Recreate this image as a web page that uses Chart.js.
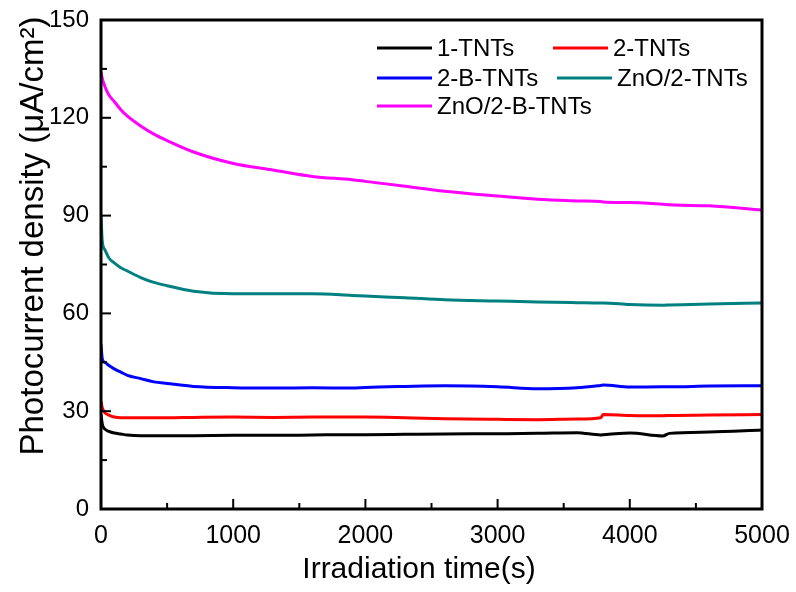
<!DOCTYPE html>
<html>
<head>
<meta charset="utf-8">
<script src="https://cdn.jsdelivr.net/npm/chart.js@4"></script>
<style>
  body { margin: 0; background: #fff; }
  #wrap { width: 796px; height: 592px; }
</style>
</head>
<body>
<div id="wrap"><canvas id="photoChart" width="796" height="592"></canvas></div>
<script>
const labels = ['1-TNTs', '2-TNTs', '2-B-TNTs', 'ZnO/2-TNTs', 'ZnO/2-B-TNTs'];
const colors = ['#000000', '#ff0000', '#0000ff', '#008080', '#ff00ff'];

const times = [0, 10, 30, 60, 100, 150, 200, 300, 400, 500, 700, 1000, 1300, 1600, 1900, 2000, 2300, 2600, 3000, 3300, 3600, 3780, 3800, 4000, 4250, 4300, 4600, 5000];

const tnt1   = [29, 26, 24.5, 23.8, 23.3, 23, 22.7, 22.5, 22.5, 22.5, 22.5, 22.6, 22.6, 22.7, 22.8, 22.8, 22.9, 23, 23.1, 23.2, 23.4, 22.7, 22.8, 23.3, 22.4, 23.2, 23.6, 24.2];
const tnt2   = [33, 31, 29.5, 28.8, 28.2, 28, 28, 28, 28, 28, 28.1, 28.2, 28.1, 28.2, 28.2, 28.2, 28, 27.7, 27.5, 27.4, 27.6, 28, 29, 28.7, 28.6, 28.7, 28.8, 29];
const btnt2  = [50.5, 46, 45, 44, 43, 42, 41, 40, 39, 38.5, 37.6, 37.2, 37.1, 37.2, 37.1, 37.3, 37.6, 37.8, 37.5, 36.9, 37.2, 37.9, 38, 37.4, 37.5, 37.5, 37.7, 37.8];
const zno2   = [90, 82, 79.5, 77, 75.5, 74, 73, 71, 69.5, 68.5, 66.8, 66, 66, 66, 65.5, 65.3, 64.8, 64.2, 63.8, 63.5, 63.3, 63.2, 63.2, 62.7, 62.5, 62.6, 62.9, 63.2];
const znob2  = [134, 132, 129.5, 127, 125, 122.5, 120.5, 117.5, 115, 113, 109.5, 106, 104, 102, 101, 100.5, 99, 97.5, 96, 95, 94.5, 94.3, 94.2, 94, 93.5, 93.3, 93, 91.7];

const series = [tnt1, tnt2, btnt2, zno2, znob2];

const xTicks = [0, 1000, 2000, 3000, 4000, 5000];
const yTicks = [0, 30, 60, 90, 120, 150];

const font = "'Liberation Sans', Arial, sans-serif";
const xTitle = 'Irradiation time(s)';
const yTitle = 'Photocurrent density (\u03bcA/cm\u00b2)';

// frame, inward ticks, axis titles and legend inside the plot
const framePlugin = {
  id: 'frame',
  afterDraw(chart) {
    const c = chart.ctx;
    const a = chart.chartArea;
    const xs = chart.scales.x, ys = chart.scales.y;
    c.save();
    c.strokeStyle = '#000';
    c.lineWidth = 2;
    for (let v = 0; v <= 5000; v += 500) {
      const px = xs.getPixelForValue(v);
      const len = v % 1000 === 0 ? 10 : 6;
      c.beginPath(); c.moveTo(px, a.bottom); c.lineTo(px, a.bottom - len); c.stroke();
    }
    for (let v = 0; v <= 150; v += 15) {
      const py = ys.getPixelForValue(v);
      const len = v % 30 === 0 ? 10 : 6;
      c.beginPath(); c.moveTo(a.left, py); c.lineTo(a.left + len, py); c.stroke();
    }
    c.lineWidth = 3;
    c.strokeRect(a.left, a.top, a.right - a.left, a.bottom - a.top);

    c.fillStyle = '#000';
    c.textAlign = 'center';
    c.textBaseline = 'middle';

    // x axis title
    c.font = '30px ' + font;
    c.fillText(xTitle, 419, 570);

    // y axis title
    c.save();
    c.translate(34, 236);
    c.rotate(-Math.PI / 2);
    c.font = '33px ' + font;
    c.fillText(yTitle, 0, 0);
    c.restore();

    // legend
    const slots = [[377, 48], [553, 48], [377, 78], [557, 78], [377, 106]];
    c.font = '24px ' + font;
    c.textAlign = 'left';
    chart.data.datasets.forEach((ds, i) => {
      const [lx, ly] = slots[i];
      c.strokeStyle = ds.borderColor;
      c.lineWidth = 3;
      c.beginPath(); c.moveTo(lx, ly); c.lineTo(lx + 55, ly); c.stroke();
      c.fillText(ds.label, lx + 60, ly + 1);
    });
    c.restore();
  }
};

new Chart(document.getElementById('photoChart'), {
  type: 'line',
  data: {
    datasets: series.map((vals, i) => ({
      label: labels[i],
      data: times.map((t, k) => ({ x: t, y: vals[k] })),
      borderColor: colors[i],
      borderWidth: 3,
      pointRadius: 0,
      fill: false,
      cubicInterpolationMode: 'monotone'
    }))
  },
  options: {
    responsive: false,
    animation: false,
    layout: { padding: { top: 20, right: 34, left: 0, bottom: 0 } },
    plugins: { legend: { display: false }, tooltip: { enabled: false } },
    scales: {
      x: {
        type: 'linear',
        min: 0, max: 5000,
        afterBuildTicks: s => { s.ticks = xTicks.map(v => ({ value: v })); },
        afterFit: s => { s.height = 83; s.paddingLeft = 0; s.paddingRight = 0; },
        grid: { display: false, drawTicks: false },
        border: { display: false },
        ticks: { color: '#000', font: { family: font, size: 25 }, padding: 12, maxRotation: 0, callback: v => String(v) },
        title: { display: false }
      },
      y: {
        min: 0, max: 150,
        afterBuildTicks: s => { s.ticks = yTicks.map(v => ({ value: v })); },
        afterFit: s => { s.width = 101; s.paddingTop = 0; s.paddingBottom = 0; },
        grid: { display: false, drawTicks: false },
        border: { display: false },
        ticks: { color: '#000', font: { family: font, size: 24 }, padding: 12 },
        title: { display: false }
      }
    }
  },
  plugins: [framePlugin]
});
</script>
</body>
</html>
